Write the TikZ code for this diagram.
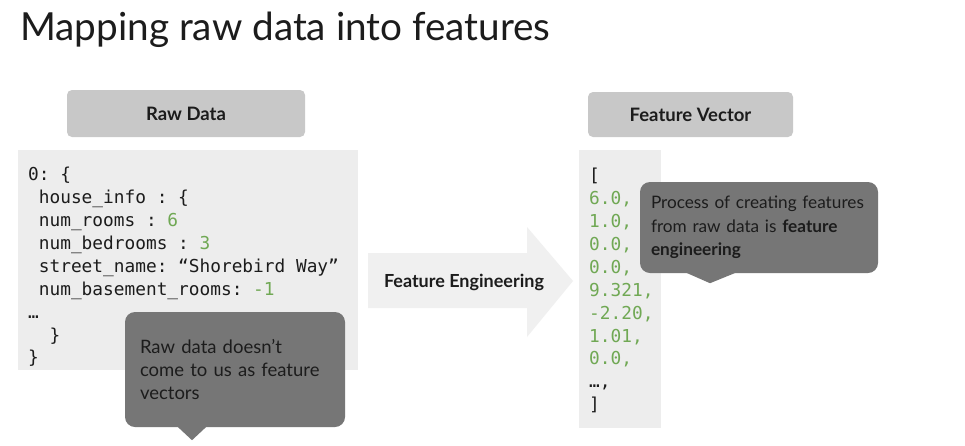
\documentclass[tikz,border=0pt]{standalone}
\usepackage{fontspec}
\setmainfont{Lato}
\setmonofont{DejaVu Sans Mono}
\definecolor{inkgray}{RGB}{28,28,28}
\definecolor{headgray}{RGB}{200,200,200}
\definecolor{codegray}{RGB}{237,237,237}
\definecolor{arrowgray}{RGB}{240,240,240}
\definecolor{notegray}{RGB}{118,118,118}
\definecolor{numgreen}{RGB}{112,168,84}
\newcommand{\val}[1]{\textcolor{numgreen}{#1}}
\newcommand{\ind}{\hspace*{0.6em}}
\begin{document}
\begin{tikzpicture}[x=1pt, y=-1pt,
   every node/.style={text=inkgray},
   title/.style={font=\fontsize{38.7}{40}\selectfont, inner sep=0pt},
   header/.style={fill=headgray, rounded corners=5pt, inner sep=0pt,
                  font=\bfseries\fontsize{18.5}{20}\selectfont},
   codebox/.style={fill=codegray, inner sep=0pt, anchor=north west},
   code/.style={font=\ttfamily\fontsize{17.8}{22.9}\selectfont,
                align=left, inner sep=0pt, anchor=north west},
   callout/.style={fill=notegray, rounded corners=10pt, align=left,
                   inner ysep=0pt, font=\fontsize{17.2}{23.3}\selectfont}]

\useasboundingbox (0,0) rectangle (965,445);
\fill[white] (0,0) rectangle (965,445);

\node[title, anchor=base west] (title) at (20,40) {Mapping raw data into features};

% left side: raw data
\node[header, minimum width=238, minimum height=47] (rawhead) at (186,113.5) {Raw Data};
\node[codebox, minimum width=340, minimum height=220] (rawbox) at (18,150) {};
\node[code] (rawcode) at (28,167) {0: \{\\
\ind house\_info : \{\\
\ind num\_rooms : \val{6}\\
\ind num\_bedrooms : \val{3}\\
\ind street\_name: “Shorebird Way”\\
\ind num\_basement\_rooms: \val{-1}\\
…\\
\ind\ind\}\\
\}};

% middle: the mapping
\fill[arrowgray] (368,253) -- (527,253) -- (527,227) -- (573,281)
   -- (527,337) -- (527,308) -- (368,308) -- cycle;
\node[font=\bfseries\fontsize{18}{20}\selectfont] (feng) at (464,282) {Feature Engineering};

% right side: feature vector
\node[header, minimum width=205, minimum height=45] (feathead) at (690.5,114.5) {Feature Vector};
\node[codebox, minimum width=82, minimum height=278] (featbox) at (579,150) {};
\node[code] (featcode) at (589,168) {[\\
\val{6.0,}\\
\val{1.0,}\\
\val{0.0,}\\
\val{0.0,}\\
\val{9.321,}\\
\val{-2.20,}\\
\val{1.01,}\\
\val{0.0,}\\
…,\\
]};

% callouts
\node[callout, minimum width=220, minimum height=115, text width=190,
      font=\fontsize{18.5}{23.2}\selectfont] (rawnote)
   at (235,369.5) {Raw data doesn’t\\come to us as feature\\vectors};
\fill[notegray] ([xshift=-58pt,yshift=1pt]rawnote.south)
   -- ([xshift=-43pt,yshift=-13pt]rawnote.south)
   -- ([xshift=-28pt,yshift=1pt]rawnote.south) -- cycle;

\node[callout, minimum width=238, minimum height=91, text width=216] (featnote)
   at (759,227.5) {Process of creating features\\from raw data is \textbf{feature}\\\textbf{engineering}};
\fill[notegray] ([xshift=-74pt,yshift=1pt]featnote.south)
   -- ([xshift=-49pt,yshift=-10pt]featnote.south)
   -- ([xshift=-22pt,yshift=1pt]featnote.south) -- cycle;

\end{tikzpicture}
\end{document}
